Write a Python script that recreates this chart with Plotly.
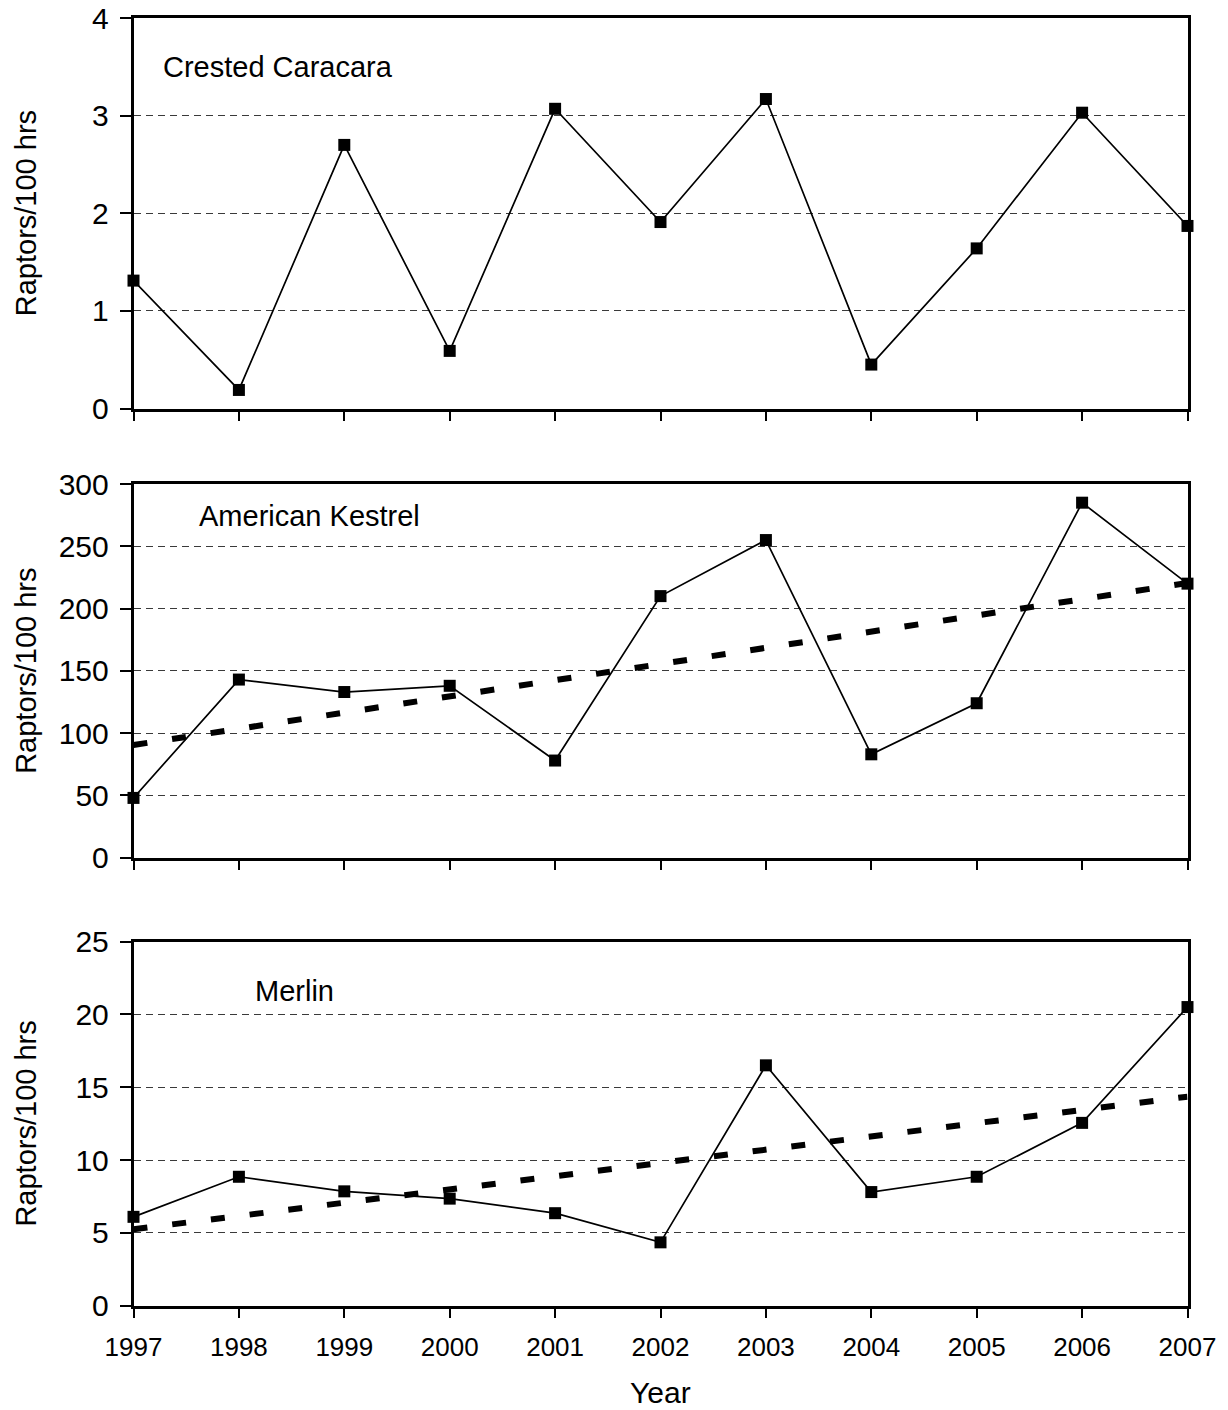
import plotly.graph_objects as go

years = [1997, 1998, 1999, 2000, 2001, 2002, 2003, 2004, 2005, 2006, 2007]
caracara = [1.31, 0.19, 2.70, 0.59, 3.07, 1.91, 3.17, 0.45, 1.64, 3.03, 1.87]
kestrel = [48, 143, 133, 138, 78, 210, 255, 83, 124, 285, 220]
merlin = [6.1, 8.85, 7.85, 7.35, 6.35, 4.35, 16.5, 7.8, 8.85, 12.55, 20.5]
kestrel_trend = [90.5, 220.5]   # trend line values at 1997 and 2007
merlin_trend = [5.25, 14.35]
trend_years = [1997, 2007]
species = ["Crested Caracara", "American Kestrel", "Merlin"]
y_ranges = [[0, 4], [0, 300], [0, 25]]
y_dticks = [1, 50, 5]
label_pos = [(1997.26, 3.5), (1997.6, 274), (1998.13, 21.6)]

W, H = 1228, 1410
FONT = "Arial, Liberation Sans, sans-serif"

def py(px):
    return 1 - px / H

domains = [
    [py(408.5), py(18)],
    [py(857.7), py(484)],
    [py(1305.7), py(941.5)],
]
xdom = [133.5 / W, 1187.5 / W]

fig = go.Figure()

series = [caracara, kestrel, merlin]
trends = [None, kestrel_trend, merlin_trend]

for i in range(3):
    xa = "x" if i == 0 else f"x{i+1}"
    ya = "y" if i == 0 else f"y{i+1}"
    if trends[i] is not None:
        fig.add_trace(go.Scatter(
            x=trend_years, y=trends[i], mode="lines", xaxis=xa, yaxis=ya,
            line=dict(color="black", width=6, dash="14px,25px"),
            showlegend=False, cliponaxis=False, hoverinfo="skip"))
    fig.add_trace(go.Scatter(
        x=years, y=series[i], mode="lines+markers", xaxis=xa, yaxis=ya,
        line=dict(color="black", width=1.7),
        marker=dict(symbol="square", size=12, color="black"),
        showlegend=False, cliponaxis=False))

layout = dict(
    width=W, height=H, autosize=False,
    margin=dict(l=0, r=0, t=0, b=0, pad=0, autoexpand=False),
    paper_bgcolor="white", plot_bgcolor="white",
    font=dict(family=FONT, color="black"),
    showlegend=False,
)

for i in range(3):
    xk = "xaxis" if i == 0 else f"xaxis{i+1}"
    yk = "yaxis" if i == 0 else f"yaxis{i+1}"
    ya_name = "y" if i == 0 else f"y{i+1}"
    xa_name = "x" if i == 0 else f"x{i+1}"
    layout[xk] = dict(
        domain=xdom, anchor=ya_name, range=[1997, 2007],
        tickmode="array", tickvals=years,
        ticktext=[str(y) for y in years] if i == 2 else ["" for _ in years],
        ticks="outside", ticklen=10, tickwidth=2, tickcolor="black",
        showline=True, linecolor="black", linewidth=2.5, mirror=True,
        showgrid=False, zeroline=False, automargin=False,
        tickfont=dict(family=FONT, size=26, color="black"),
        ticklabelstandoff=6,
        fixedrange=True,
    )
    layout[yk] = dict(
        domain=domains[i], anchor=xa_name, range=y_ranges[i],
        tickmode="linear", tick0=0, dtick=y_dticks[i],
        ticks="outside", ticklen=11, tickwidth=2, tickcolor="black",
        showline=True, linecolor="black", linewidth=2.5, mirror=True,
        showgrid=True, gridcolor="#3a3a3a", gridwidth=1, griddash="7px,5px",
        zeroline=False, automargin=False,
        tickfont=dict(family=FONT, size=30, color="black"),
        ticklabelstandoff=5,
        fixedrange=True,
    )

annotations = []
for i in range(3):
    xa_name = "x" if i == 0 else f"x{i+1}"
    ya_name = "y" if i == 0 else f"y{i+1}"
    annotations.append(dict(
        text=species[i], x=label_pos[i][0], y=label_pos[i][1],
        xref=xa_name, yref=ya_name, xanchor="left", yanchor="middle",
        showarrow=False, font=dict(family=FONT, size=29, color="black")))
    annotations.append(dict(
        text="Raptors/100 hrs", textangle=-90,
        x=26 / W, y=(domains[i][0] + domains[i][1]) / 2,
        xref="paper", yref="paper", xanchor="center", yanchor="middle",
        showarrow=False, font=dict(family=FONT, size=29, color="black")))

annotations.append(dict(
    text="Year", x=(xdom[0] + xdom[1]) / 2, y=py(1392),
    xref="paper", yref="paper", xanchor="center", yanchor="middle",
    showarrow=False, font=dict(family=FONT, size=30, color="black")))

layout["annotations"] = annotations
fig.update_layout(**layout)

fig.write_html("out.html", config={"responsive": False})
